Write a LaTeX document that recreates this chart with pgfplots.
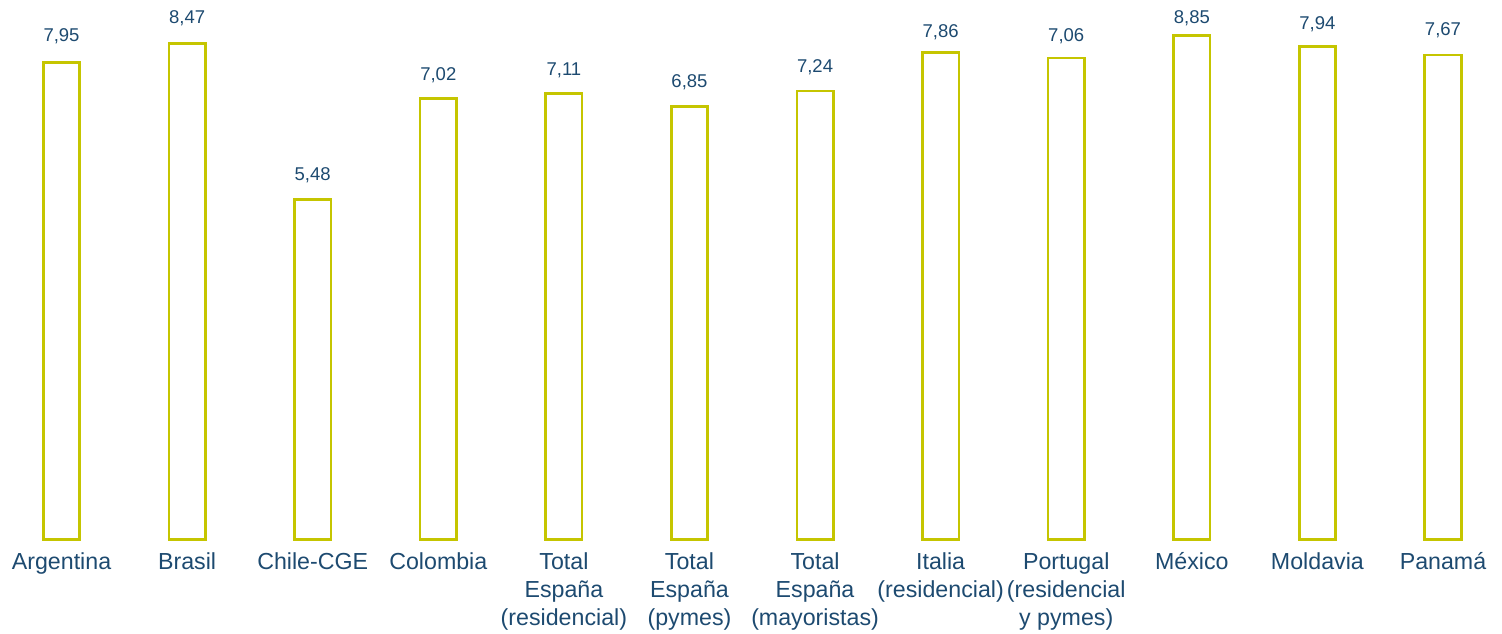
\documentclass[border=0pt]{standalone}
\usepackage{fontspec}
\setmainfont{Liberation Sans}
\usepackage{pgfplots}
\usepackage{pgfplotstable}
\pgfplotsset{compat=1.18}
\definecolor{barc}{HTML}{C5C500}
\definecolor{textblue}{HTML}{1D4A70}
\newcommand\ml[1]{\begin{tabular}[t]{@{}c@{}}#1\end{tabular}}
% idx: category position; h: bar height as drawn in the reference;
% v: printed value; ys: gap (pt) from bar top to value label baseline
\pgfplotstableread{
idx h    v    ys
0   7.69 7.95 10.3
1   8.00 8.47 9.7
2   5.48 5.48 9.7
3   7.11 7.02 9.2
4   7.19 7.11 9.2
5   6.98 6.85 9.5
6   7.23 7.24 9.0
7   7.85 7.86 7.3
8   7.76 7.06 8.3
9   8.13 8.85 5.8
10  7.95 7.94 8.5
11  7.81 7.67 9.8
}\datatable
\begin{document}
\begin{tikzpicture}
\begin{axis}[
  scale only axis,
  width=751pt, height=269.5pt,
  xmin=-0.49, xmax=11.47, ymin=0, ymax=8.694,
  axis line style={draw=none},
  ytick=\empty,
  xtick={0,...,11},
  major tick length=0pt,
  xticklabels={Argentina, Brasil, Chile-CGE, Colombia,
    {\ml{Total\\España\\(residencial)}}, {\ml{Total\\España\\(pymes)}},
    {\ml{Total\\España\\(mayoristas)}}, {\ml{Italia\\(residencial)}},
    {\ml{Portugal\\(residencial\\y pymes)}}, México, Moldavia, Panamá},
  xticklabel style={font=\fontsize{11.6}{14}\selectfont,
    text=textblue, anchor=base, inner sep=0pt, yshift=-15pt},
  ybar, bar width=18.2pt,
  clip=false,
  point meta=explicit,
  visualization depends on={\thisrow{ys} \as \labshift},
  nodes near coords={\pgfmathprintnumber[assume math mode=true, use comma, fixed, fixed zerofill, precision=2]{\pgfplotspointmeta}},
  every node near coord/.append style={font=\fontsize{9.25}{11}\selectfont,
    text=textblue, anchor=base, inner sep=0pt, yshift=\labshift pt},
]
\addplot[draw=barc, fill=white, line width=1.35pt] table[x=idx, y=h, meta=v] {\datatable};
\end{axis}
\end{tikzpicture}
\end{document}
